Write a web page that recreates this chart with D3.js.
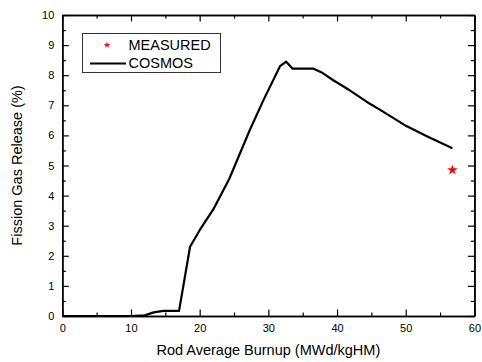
<!DOCTYPE html>
<html>
<head>
<meta charset="utf-8">
<script src="https://cdn.jsdelivr.net/npm/d3@7"></script>
<style>
  body { margin: 0; background: #fff; }
  svg { display: block; font-family: Arial, "Liberation Sans", sans-serif; }
</style>
</head>
<body>
<svg id="chart" width="482" height="362"></svg>
<script>
// COSMOS calculation (burnup, FGR %)
var cosmosX = [0, 10, 12, 13.3, 14.7, 17.0, 18.6, 20.0, 22.0, 24.3, 27.3, 29.3, 31.7, 32.6, 33.5, 36.5, 37.7, 39.4, 41.9, 44.3, 46.7, 50.1, 53.0, 56.8];
var cosmosY = [0, 0, 0.02, 0.12, 0.17, 0.17, 2.3, 2.85, 3.55, 4.55, 6.18, 7.18, 8.3, 8.45, 8.22, 8.22, 8.1, 7.84, 7.49, 7.12, 6.79, 6.31, 5.98, 5.57];

// measured point
var measuredX = [56.8];
var measuredY = [4.85];

var xTicks = [0, 10, 20, 30, 40, 50, 60];
var yTicks = [0, 1, 2, 3, 4, 5, 6, 7, 8, 9, 10];
var legendLabels = ["MEASURED", "COSMOS"];

// plot box in px (window.top is taken, so use other names)
var pLeft = 62.3, pRight = 474.4, pTop = 15, pBottom = 316;

var svg = d3.select("#chart");

var x = d3.scaleLinear().domain([0, 60]).range([pLeft, pRight]);
var y = d3.scaleLinear().domain([0, 10]).range([pBottom, pTop]);

function styleAxis(g) {
    g.selectAll("path").attr("stroke", "#000").attr("stroke-width", 1.5);
    g.selectAll("line").attr("stroke", "#000").attr("stroke-width", 1.2);
    g.selectAll("text").attr("fill", "#000").style("font-size", "11px").style("font-family", "Arial, 'Liberation Sans', sans-serif");
}

var minorX = d3.range(5, 60, 10);
var minorY = d3.range(0.5, 10, 1);

// minor ticks, all four sides
svg.append("g").attr("transform", "translate(0," + pBottom + ")")
  .call(d3.axisBottom(x).tickValues(minorX).tickSize(-3.5).tickFormat("").tickSizeOuter(0)).call(styleAxis);
svg.append("g").attr("transform", "translate(0," + pTop + ")")
  .call(d3.axisTop(x).tickValues(minorX).tickSize(-3.5).tickFormat("").tickSizeOuter(0)).call(styleAxis);
svg.append("g").attr("transform", "translate(" + pLeft + ",0)")
  .call(d3.axisLeft(y).tickValues(minorY).tickSize(-3.5).tickFormat("").tickSizeOuter(0)).call(styleAxis);
svg.append("g").attr("transform", "translate(" + pRight + ",0)")
  .call(d3.axisRight(y).tickValues(minorY).tickSize(-3.5).tickFormat("").tickSizeOuter(0)).call(styleAxis);

// major ticks
svg.append("g").attr("transform", "translate(0," + pBottom + ")")
  .call(d3.axisBottom(x).tickValues(xTicks).tickSize(-6.5).tickSizeOuter(0).tickPadding(8.5).tickFormat(d3.format("d"))).call(styleAxis);
svg.append("g").attr("transform", "translate(0," + pTop + ")")
  .call(d3.axisTop(x).tickValues(xTicks).tickSize(-6.5).tickSizeOuter(0).tickFormat("")).call(styleAxis);
svg.append("g").attr("transform", "translate(" + pLeft + ",0)")
  .call(d3.axisLeft(y).tickValues(yTicks).tickSize(-6.5).tickSizeOuter(0).tickPadding(8).tickFormat(d3.format("d"))).call(styleAxis);
svg.append("g").attr("transform", "translate(" + pRight + ",0)")
  .call(d3.axisRight(y).tickValues(yTicks).tickSize(-6.5).tickSizeOuter(0).tickFormat("")).call(styleAxis);

// axis titles
svg.append("text")
  .attr("x", (pLeft + pRight) / 2)
  .attr("y", 355)
  .attr("text-anchor", "middle")
  .style("font-size", "14.5px")
  .text("Rod Average Burnup (MWd/kgHM)");

svg.append("text")
  .attr("transform", "translate(22," + ((pTop + pBottom) / 2) + ") rotate(-90)")
  .attr("text-anchor", "middle")
  .style("font-size", "14.5px")
  .text("Fission Gas Release (%)");

// COSMOS line
var pts = cosmosX.map(function(d, i) { return [d, cosmosY[i]]; });
var line = d3.line().x(function(d) { return x(d[0]); }).y(function(d) { return y(d[1]); });

svg.append("path")
  .datum(pts)
  .attr("fill", "none")
  .attr("stroke", "#000")
  .attr("stroke-width", 2.2)
  .attr("stroke-linejoin", "round")
  .attr("d", line);

// measured
svg.selectAll(".meas")
  .data(measuredX)
  .enter()
  .append("path")
  .attr("class", "meas")
  .attr("transform", function(d, i) { return "translate(" + x(d) + "," + y(measuredY[i]) + ")"; })
  .attr("fill", "red")
  .attr("d", d3.symbol().type(d3.symbolStar).size(34));

// legend
var lg = svg.append("g");
lg.append("rect")
  .attr("x", 82.5).attr("y", 33.5)
  .attr("width", 138).attr("height", 39)
  .attr("fill", "#fff")
  .attr("stroke", "#333")
  .attr("stroke-width", 1);

lg.append("path")
  .attr("transform", "translate(107,45)")
  .attr("fill", "red")
  .attr("d", d3.symbol().type(d3.symbolStar).size(14));

lg.append("line")
  .attr("x1", 90).attr("x2", 126)
  .attr("y1", 63.5).attr("y2", 63.5)
  .attr("stroke", "#000")
  .attr("stroke-width", 2.2);

lg.selectAll(".lt")
  .data(legendLabels)
  .enter()
  .append("text")
  .attr("class", "lt")
  .attr("x", 128.5)
  .attr("y", function(d, i) { return 50 + i * 17.7; })
  .style("font-size", "14.5px")
  .text(function(d) { return d; });
</script>
</body>
</html>
